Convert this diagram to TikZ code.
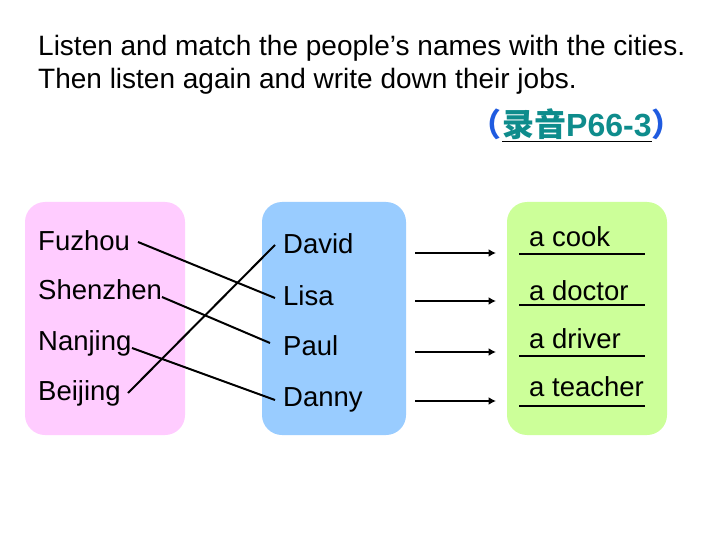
\documentclass[tikz,border=0pt]{standalone}
\usepackage{fontspec}
\usetikzlibrary{arrows.meta}
\setmainfont{Liberation Sans}
\newfontfamily\cjk{Noto Sans CJK SC}
\definecolor{pinkbg}{HTML}{FFCCFF}
\definecolor{bluebg}{HTML}{99CCFF}
\definecolor{greenbg}{HTML}{CCFF99}
\definecolor{tealtxt}{HTML}{0E8C8C}
\definecolor{parblue}{HTML}{1F5BE0}
\begin{document}
\begin{tikzpicture}[x=1pt,y=-1pt,
  panel/.style={rounded corners=20pt},
  lbl/.style={anchor=base west,inner sep=0pt,font=\fontsize{27.5}{32}\selectfont},
  job/.style={anchor=base west,inner sep=0pt,font=\fontsize{27.5}{32}\selectfont},
  reftxt/.style={inner sep=0pt,font=\fontsize{32}{36}\selectfont\bfseries},
  link/.style={line width=2pt},
  arr/.style={line width=2pt,-{Latex[length=7.5pt,width=8pt]}},
  uline/.style={line width=1.8pt}]
\useasboundingbox (0,0) rectangle (720,540);
\fill[white] (0,0) rectangle (720,540);
\node[anchor=base west,inner sep=0pt,font=\fontsize{28}{32}\selectfont] (title1) at (38,56)
  {Listen and match the people’s names with the cities.};
\node[anchor=base west,inner sep=0pt,font=\fontsize{28}{32}\selectfont] (title2) at (38,89)
  {Then listen again and write down their jobs.};
\node[reftxt,anchor=base west] (ref) at (502,137)
  {\underline{\color{tealtxt}{\cjk 录音}P66-3}};
\node[reftxt,anchor=base east,text=parblue] (lp) at (ref.base west) {\cjk （};
\node[reftxt,anchor=base west,text=parblue] (rp) at (ref.base east) {\cjk ）};
\fill[pinkbg,panel] (25,202) rectangle (185,435);
\fill[bluebg,panel] (262,202) rectangle (406,435);
\fill[greenbg,panel] (507,202) rectangle (667,435);
\node[lbl] (fz) at (38,250) {Fuzhou};
\node[lbl] (sz) at (38,299) {Shenzhen};
\node[lbl] (nj) at (38,350) {Nanjing};
\node[lbl] (bj) at (38,400) {Beijing};
\node[lbl] (dv) at (283,254) {David};
\node[lbl] (ls) at (283,305) {Lisa};
\node[lbl] (pl) at (283,355) {Paul};
\node[lbl] (dn) at (283,406) {Danny};
\coordinate (fzE) at (138,242);
\coordinate (szE) at (162,297);
\coordinate (njE) at (132,348);
\coordinate (bjE) at (128,393);
\coordinate (dvW) at (275,245);
\coordinate (lsW) at (275,298);
\coordinate (plW) at (270,343);
\coordinate (dnW) at (275,400);
\draw[link] (fzE) -- (lsW);
\draw[link] (szE) -- (plW);
\draw[link] (njE) -- (dnW);
\draw[link] (bjE) -- (dvW);
\foreach \y/\n in {253/a,301/b,352/c,401/d}{
  \coordinate (s\n) at (415,\y);
  \coordinate (e\n) at (496,\y);
  \draw[arr] (s\n) -- (e\n);
}
\foreach \y/\n in {254/a,305/b,356/c,406/d}{
  \coordinate (u\n1) at (519,\y);
  \coordinate (u\n2) at (645,\y);
  \draw[uline] (u\n1) -- (u\n2);
}
\node[job] (j1) at (529,246) {a cook};
\node[job] (j2) at (529,300) {a doctor};
\node[job] (j3) at (529,348) {a driver};
\node[job] (j4) at (529,396) {a teacher};
\end{tikzpicture}
\end{document}
